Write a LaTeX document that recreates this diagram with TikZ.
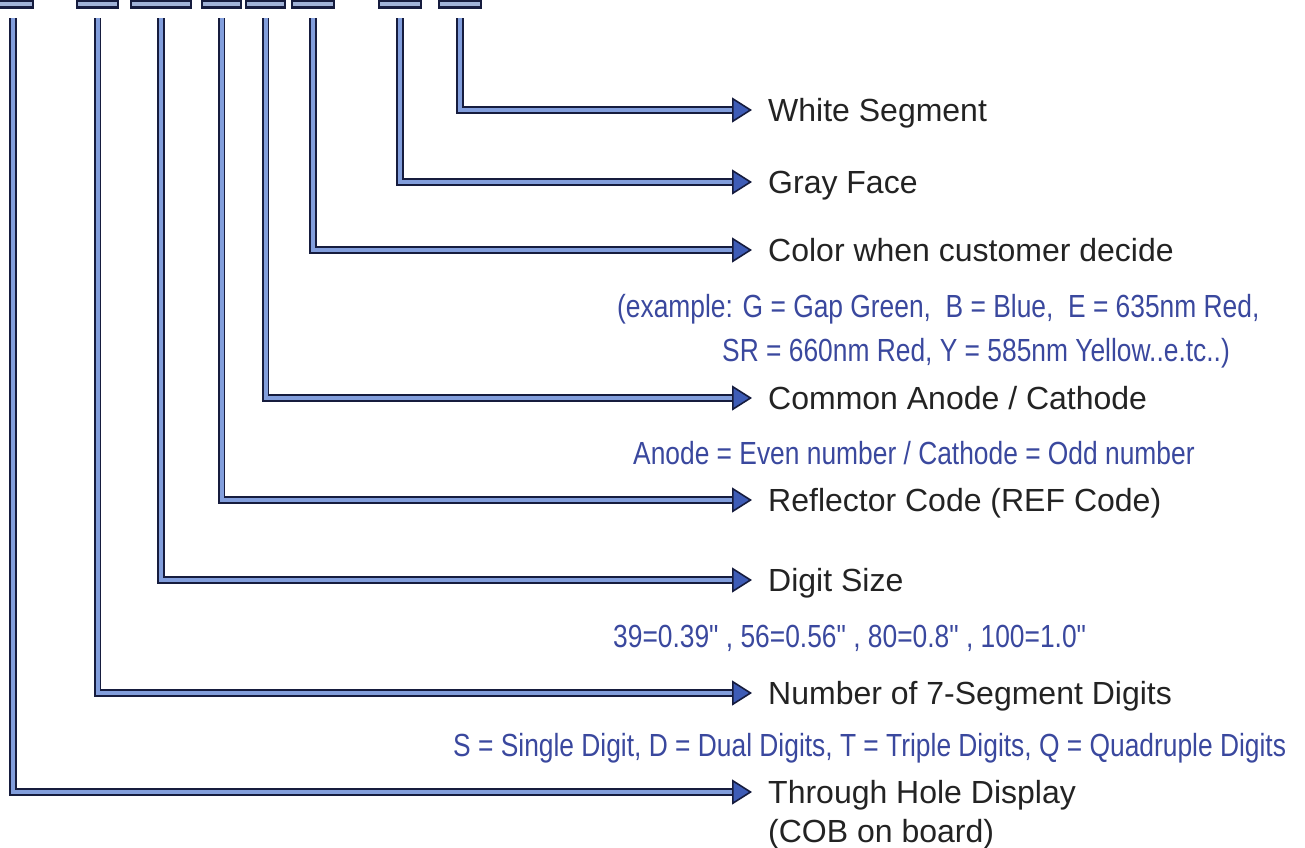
\documentclass[tikz,border=0pt]{standalone}
\usepackage{fontspec}
\setmainfont{Liberation Sans}
\newfontfamily\narrowfont[FakeStretch=0.824]{Liberation Sans}
\font\qfont="Liberation Sans:extend=0.824" at 32pt
\usetikzlibrary{arrows.meta}
\definecolor{txt}{RGB}{35,35,35}
\definecolor{bluetxt}{RGB}{58,72,158}
\definecolor{navy}{RGB}{22,28,62}
\definecolor{lightb}{RGB}{130,158,220}
\definecolor{tipfill}{RGB}{62,92,182}
\definecolor{segfill}{RGB}{160,178,215}
\newcommand{\inch}{{\qfont"}}
\begin{document}
\begin{tikzpicture}[x=1pt,y=-1pt,
 seg/.style={draw=navy, fill=segfill, line width=2.4pt, rectangle, inner sep=0pt, minimum height=7pt},
 lab/.style={anchor=west, inner sep=0pt, text=txt, font=\fontsize{32}{38}\selectfont, text height=23pt, text depth=0pt},
 note/.style={anchor=west, inner sep=0pt, text=bluetxt, font=\narrowfont\fontsize{32}{38}\selectfont, text height=23pt, text depth=0pt},
 conn/.style={draw=lightb, line width=4pt, preaction={draw=navy, line width=7.8pt}},
 tipstyle/.style={-{Triangle[length=20pt,width=25pt,fill=tipfill,color=navy,line width=1.6pt]}, draw=navy, line width=1pt}
]
\useasboundingbox (0,0) rectangle (1305,847);
\begin{scope}
\clip (0,0) rectangle (1305,847);
% top segment boxes
\node[seg, minimum width=40pt] (b1) at (13,4) {};
\node[seg, minimum width=41pt] (b2) at (97.5,4) {};
\node[seg, minimum width=60pt] (b3) at (161,4) {};
\node[seg, minimum width=39pt] (b4) at (221.5,4) {};
\node[seg, minimum width=39pt] (b5) at (265.5,4) {};
\node[seg, minimum width=42pt] (b6) at (313,4) {};
\node[seg, minimum width=42pt] (b7) at (400,4) {};
\node[seg, minimum width=42pt] (b8) at (460,4) {};
\end{scope}
% labels
\node[lab] (l8) at (768,110) {White Segment};
\node[lab] (l7) at (768,182) {Gray Face};
\node[lab] (l6) at (768,250) {Color when customer decide};
\node[lab] (l5) at (768,398) {Common Anode / Cathode};
\node[lab] (l4) at (768,500) {Reflector Code (REF Code)};
\node[lab] (l3) at (768,580) {Digit Size};
\node[lab] (l2) at (768,693) {Number of 7-Segment Digits};
\node[lab] (l1) at (768,792) {Through Hole Display};
\node[lab] (l1b) at (768,831) {(COB on board)};
% blue notes
\node[note] (n6a) at (617,306) {(example: G = Gap Green,\ \ B = Blue,\ \ E = 635nm Red,};
\node[note] (n6b) at (722,350) {SR = 660nm Red, Y = 585nm Yellow..e.tc..)};
\node[note] (n5) at (633,453) {Anode = Even number / Cathode = Odd number};
\node[note] (n3) at (613,636) {39=0.39\inch\ , 56=0.56\inch\ , 80=0.8\inch\ , 100=1.0\inch};
\node[note] (n2) at (453,745) {S = Single Digit, D = Dual Digits, T = Triple Digits, Q = Quadruple Digits};
% connectors
\foreach \i in {1,...,8}{
  \draw[conn] ([yshift=-9.5pt]b\i.south) |- ([xshift=-34pt]l\i.west);
  \draw[tipstyle] ([xshift=-26pt]l\i.west) -- ([xshift=-16pt]l\i.west);
}
\end{tikzpicture}
\end{document}
